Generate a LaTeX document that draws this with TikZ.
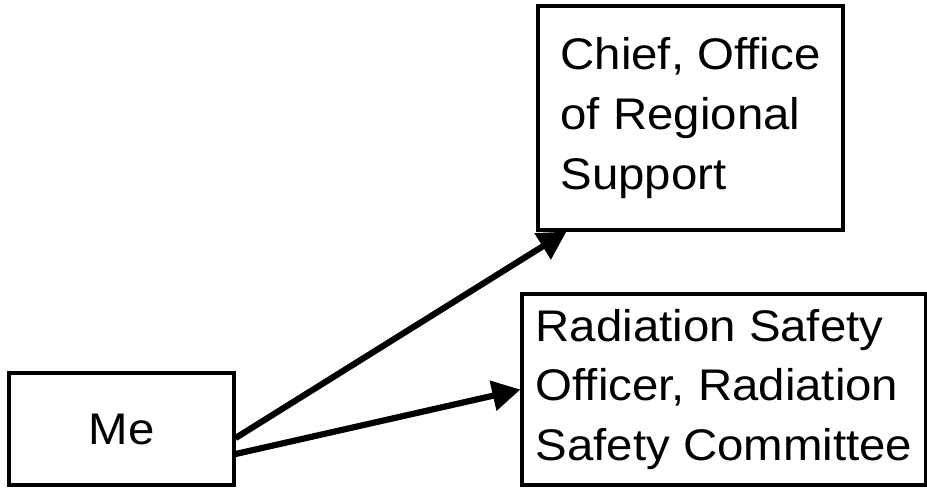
\documentclass[tikz,border=0pt]{standalone}
\usepackage{fontspec}
\setmainfont{Liberation Sans}
\newfontfamily\boxfont[FakeStretch=1.07]{Liberation Sans}
\usetikzlibrary{arrows.meta,backgrounds}

\begin{document}
\begin{tikzpicture}[x=0.025cm,y=-0.025cm,
    box/.style={draw,fill=white,line width=2.2pt,inner sep=0pt,align=left,
                font=\boxfont\fontsize{31.5}{42.5}\selectfont},
    link/.style={line width=4.4pt,-{Triangle[length=20pt,width=21pt]}}]
    \useasboundingbox (0,0) rectangle (927,487);

    % Boxes
    \node[box,minimum width=225*0.025cm,minimum height=112*0.025cm,align=center] (me) at (121.5,429) {Me};
    \node[box,minimum width=305*0.025cm,minimum height=224*0.025cm] (chief) at (690.5,118) {Chief, Office\\of Regional\\Support};
    \node[box,minimum width=404*0.025cm,minimum height=191*0.025cm] (rso) at (724,389.5) {Radiation Safety\\Officer, Radiation\\Safety Committee};

    % Arrows
    \coordinate (a1) at ([yshift=-9*0.025cm]me.east);
    \coordinate (a2) at ([yshift=-25*0.025cm]me.east);
    \coordinate (t1) at ([xshift=30*0.025cm]chief.south west);
    \begin{pgfonlayer}{background}
        \draw[link] (a1) -- (t1);
        \draw[link] (a2) -- (rso.west);
    \end{pgfonlayer}
\end{tikzpicture}
\end{document}
